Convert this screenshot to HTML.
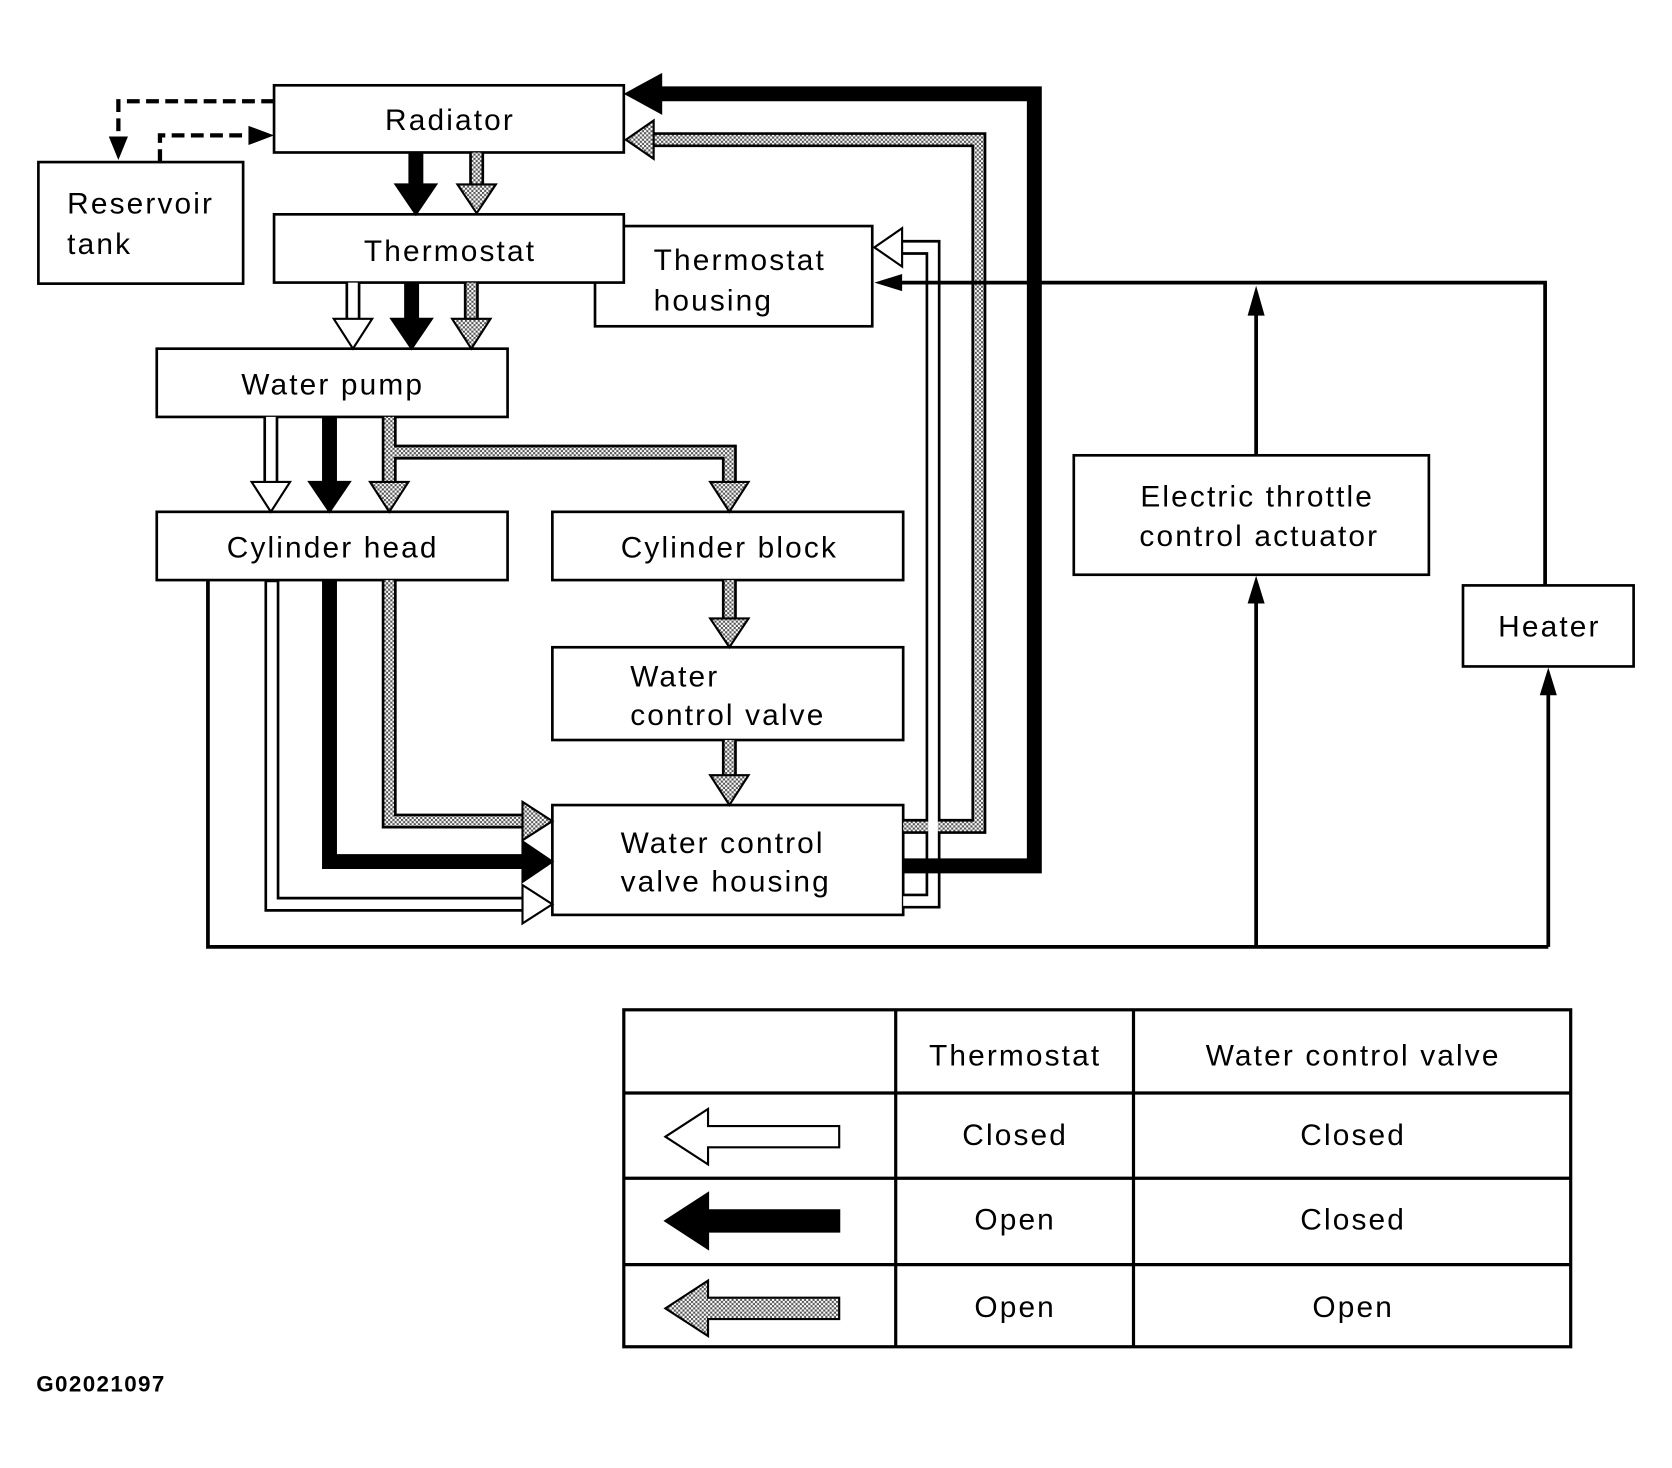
<!DOCTYPE html>
<html><head><meta charset="utf-8"><style>
html,body{margin:0;padding:0;background:#fff;}
svg{display:block;}
text{font-family:"Liberation Sans",Arial,sans-serif;font-size:28px;fill:#000;letter-spacing:2px;}
</style></head><body>
<svg width="1672" height="1468" viewBox="0 0 1568 1376.7" xmlns="http://www.w3.org/2000/svg">
<defs>
<pattern id="h" width="4" height="4" patternUnits="userSpaceOnUse">
<rect width="4" height="4" fill="#fff"/>
<rect x="0" y="0" width="2" height="2" fill="#555"/>
<rect x="2" y="2" width="2" height="2" fill="#555"/>
</pattern>
</defs>
<g fill="none" stroke="#000" stroke-width="2.5">
<rect x="257" y="80" width="328" height="63" fill="#fff"/>
<rect x="36" y="152" width="192" height="114"/>
<rect x="558" y="212" width="260" height="94"/>
<rect x="257" y="201" width="328" height="64" fill="#fff"/>
<rect x="147" y="327" width="329" height="64"/>
<rect x="147" y="480" width="329" height="64"/>
<rect x="518" y="480" width="329" height="64"/>
<rect x="518" y="607" width="329" height="87"/>
<rect x="518" y="755" width="329" height="103"/>
<rect x="1007" y="427" width="333" height="112"/>
<rect x="1372" y="549" width="160" height="76"/>
</g>
<g fill="none" stroke="#000" stroke-width="4" stroke-dasharray="12 6">
<polyline points="257,95 111,95 111,128"/>
<polyline points="150,152 150,127 233,127"/>
</g>
<polygon points="102,128 120,128 111,150" fill="#000"/>
<polygon points="233,118 233,136 257,127" fill="#000"/>
<g fill="none" stroke="#000" stroke-width="14" stroke-linejoin="miter">
<polyline points="447,143 447,175"/>
<polyline points="331,265 331,300"/>
<polyline points="442,265 442,300"/>
<polyline points="254,391 254,453"/>
<polyline points="365,391 365,453"/>
<polyline points="365,424 684,424 684,453"/>
<polyline points="684,544 684,581"/>
<polyline points="684,694 684,728"/>
<polyline points="365,544 365,770 491,770"/>
<polyline points="255,544 255,848 491,848"/>
<polyline points="847,775 918,775 918,131 612,131"/>
<polyline points="847,845 875,845 875,232 845,232"/>
</g>
<g fill="none" stroke="url(#h)" stroke-width="9" stroke-linejoin="miter">
<polyline points="447,143 447,177"/>
<polyline points="442,265 442,302"/>
<polyline points="365,391 365,455"/>
<polyline points="365,424 684,424 684,455"/>
<polyline points="684,544 684,583"/>
<polyline points="684,694 684,730"/>
<polyline points="365,544 365,770 493,770"/>
<polyline points="847,775 918,775 918,131 610,131"/>
</g>
<g fill="none" stroke="#fff" stroke-width="9" stroke-linejoin="miter">
<polyline points="331,265 331,302"/>
<polyline points="254,391 254,455"/>
<polyline points="255,546 255,848 493,848"/>
<polyline points="847,845 875,845 875,232 843,232"/>
</g>
<g fill="none" stroke="#000" stroke-width="14" stroke-linejoin="miter">
<polyline points="390,143 390,175"/>
<polyline points="386,265 386,300"/>
<polyline points="309,391 309,453"/>
<polyline points="309,544 309,808 491,808"/>
<polyline points="847,812 970,812 970,88 620,88"/>
</g>
<g stroke="#000" stroke-width="2" stroke-linejoin="miter">
<polygon points="371,173 409,173 390,201" fill="#000"/>
<polygon points="429,173 465,173 447,200" fill="url(#h)"/>
<polygon points="313,299 349,299 331,327" fill="#fff"/>
<polygon points="367,299 405,299 386,327" fill="#000"/>
<polygon points="424,299 460,299 442,327" fill="url(#h)"/>
<polygon points="236,452 272,452 254,480" fill="#fff"/>
<polygon points="290,452 328,452 309,480" fill="#000"/>
<polygon points="347,452 383,452 365,480" fill="url(#h)"/>
<polygon points="666,452 702,452 684,480" fill="url(#h)"/>
<polygon points="666,580 702,580 684,607" fill="url(#h)"/>
<polygon points="666,727 702,727 684,755" fill="url(#h)"/>
<polygon points="490,752 490,788 518,770" fill="url(#h)"/>
<polygon points="490,789 490,827 518,808" fill="#000"/>
<polygon points="490,830 490,866 518,848" fill="#fff"/>
<polygon points="613,113 613,149 587,131" fill="url(#h)"/>
<polygon points="620,70 620,106 587,88" fill="#000"/>
<polygon points="846,214 846,250 820,232" fill="#fff"/>
</g>
<g fill="none" stroke="#000" stroke-width="3.5">
<polyline points="195,544 195,888 1452,888"/>
<polyline points="1178,888 1178,560"/>
<polyline points="1452,888 1452,648"/>
<polyline points="1178,427 1178,290"/>
<polyline points="1449,549 1449,265 842,265"/>
</g>
<g fill="#000">
<polygon points="1170,566 1186,566 1178,540"/>
<polygon points="1444,652 1460,652 1452,626"/>
<polygon points="1170,296 1186,296 1178,268"/>
<polygon points="846,257 846,273 820,265"/>
</g>
<text x="422" y="122" text-anchor="middle">Radiator</text>
<text x="63" y="200">Reservoir</text>
<text x="63" y="238">tank</text>
<text x="422" y="245" text-anchor="middle">Thermostat</text>
<text x="613" y="253">Thermostat</text>
<text x="613" y="291">housing</text>
<text x="312" y="370" text-anchor="middle">Water pump</text>
<text x="312" y="523" text-anchor="middle">Cylinder head</text>
<text x="684" y="523" text-anchor="middle">Cylinder block</text>
<text x="591" y="644">Water</text>
<text x="591" y="680">control valve</text>
<text x="582" y="800">Water control</text>
<text x="582" y="836">valve housing</text>
<text x="1179" y="475" text-anchor="middle">Electric throttle</text>
<text x="1181" y="512" text-anchor="middle">control actuator</text>
<text x="1453" y="597" text-anchor="middle">Heater</text>
<g fill="none" stroke="#000" stroke-width="3">
<rect x="585" y="947" width="888" height="316"/>
<line x1="840" y1="947" x2="840" y2="1263"/>
<line x1="1063" y1="947" x2="1063" y2="1263"/>
<line x1="585" y1="1025" x2="1473" y2="1025"/>
<line x1="585" y1="1105" x2="1473" y2="1105"/>
<line x1="585" y1="1186" x2="1473" y2="1186"/>
</g>
<text x="952" y="999" text-anchor="middle">Thermostat</text>
<text x="1269" y="999" text-anchor="middle">Water control valve</text>
<text x="952" y="1074" text-anchor="middle">Closed</text>
<text x="1269" y="1074" text-anchor="middle">Closed</text>
<text x="952" y="1153" text-anchor="middle">Open</text>
<text x="1269" y="1153" text-anchor="middle">Closed</text>
<text x="952" y="1235" text-anchor="middle">Open</text>
<text x="1269" y="1235" text-anchor="middle">Open</text>
<g stroke="#000" stroke-width="2">
<polygon points="624,1066 664,1040 664,1056 787,1056 787,1076 664,1076 664,1092" fill="#fff"/>
<polygon points="624,1145 664,1119 664,1135 787,1135 787,1155 664,1155 664,1171" fill="#000"/>
<polygon points="624,1227 664,1201 664,1217 787,1217 787,1237 664,1237 664,1253" fill="url(#h)"/>
</g>
<text x="34" y="1305" style="font-size:21px;font-weight:bold;letter-spacing:1.3px">G02021097</text>
</svg>
</body></html>
